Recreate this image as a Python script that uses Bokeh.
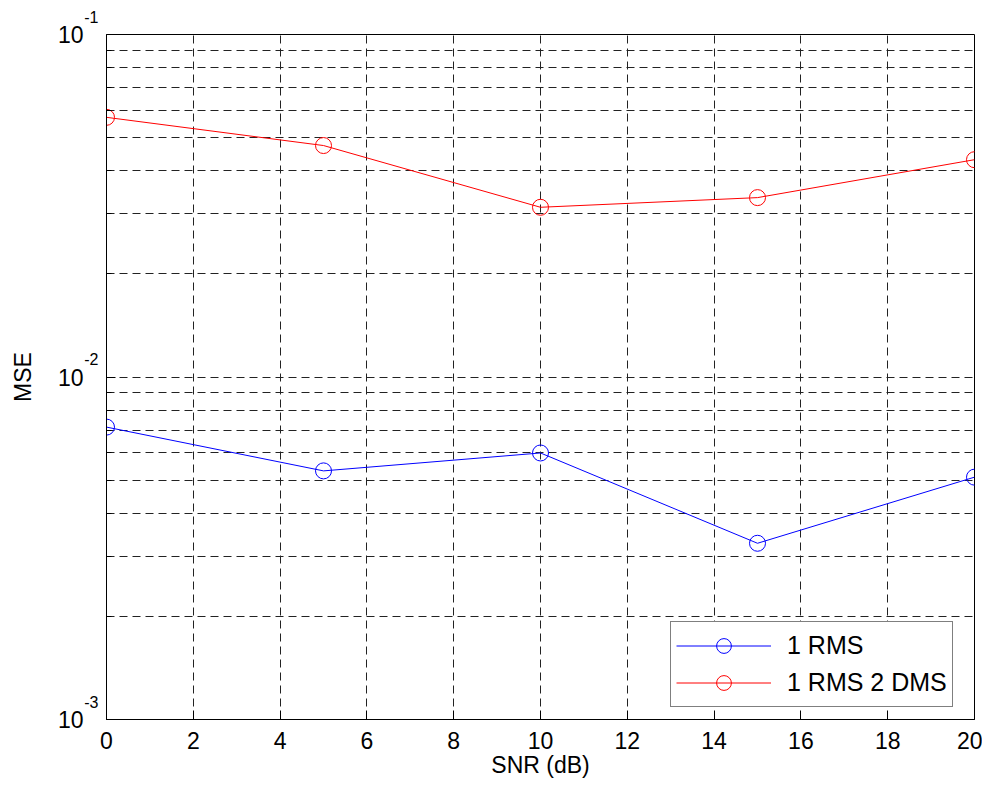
from bokeh.plotting import figure
from bokeh.models import Range1d, FixedTicker, Legend, LegendItem, LogAxis
from bokeh.embed import file_html
from bokeh.resources import INLINE

# ---- data ----
snr = [0, 5, 10, 15, 20]
mse_1rms = [0.00714, 0.00532, 0.0060, 0.00327, 0.0051]
mse_1rms_2dms = [0.0573, 0.0474, 0.0313, 0.0334, 0.0431]

x_ticks = [0, 2, 4, 6, 8, 10, 12, 14, 16, 18, 20]
y_major = [0.001, 0.01, 0.1]
y_exponents = ["-3", "-2", "-1"]
y_minor = [m * d for d in [0.001, 0.01] for m in range(2, 10)]

FONT = "Liberation Sans"
GRID_DASH = "8 5"

p = figure(frame_width=868, frame_height=685, y_axis_type="log",
           x_range=Range1d(0, 20), y_range=Range1d(1e-3, 1e-1),
           output_backend="svg", toolbar_location=None,
           min_border_left=106, min_border_right=8, min_border_top=34,
           min_border_bottom=60, x_axis_label="SNR (dB)")
p.outline_line_color = "black"
p.outline_line_width = 1
p.background_fill_color = "white"
p.border_fill_color = "white"

xt = FixedTicker(ticks=x_ticks)
yt = FixedTicker(ticks=y_major, minor_ticks=y_minor)

xa = p.xaxis[0]
xa.ticker = xt
xa.major_tick_in = 9
xa.major_tick_out = 0
xa.minor_tick_line_color = None
xa.major_label_standoff = 12
xa.major_label_text_font = FONT
xa.major_label_text_font_size = "23px"
xa.major_label_text_color = "black"
xa.axis_label_text_font = FONT
xa.axis_label_text_font_size = "23px"
xa.axis_label_text_font_style = "normal"
xa.axis_label_text_color = "black"
xa.axis_label_standoff = 0
xa.axis_line_color = "black"

# inner left axis: ticks + exponent part of the labels (raised)
ya = p.yaxis[0]
ya.ticker = yt
ya.major_tick_in = 9
ya.major_tick_out = 0
ya.minor_tick_in = 5
ya.minor_tick_out = 0
ya.major_label_overrides = {v: e + "\n\u00a0" for v, e in zip(y_major, y_exponents)}
ya.major_label_standoff = 8
ya.major_label_text_font = FONT
ya.major_label_text_font_size = "16px"
ya.major_label_text_line_height = 2.05
ya.major_label_text_color = "black"
ya.axis_line_color = "black"

# outer left axis: base "10" of the labels and the axis title
yb = LogAxis(ticker=yt, major_tick_line_color=None, minor_tick_line_color=None,
             axis_line_color=None, major_label_standoff=-8,
             major_label_overrides={v: "10" for v in y_major},
             major_label_text_font=FONT, major_label_text_font_size="23px",
             major_label_text_color="black", axis_label="MSE",
             axis_label_text_font=FONT, axis_label_text_font_size="23px",
             axis_label_text_font_style="normal", axis_label_text_color="black",
             axis_label_standoff=19)
p.add_layout(yb, "left")

# grids
p.xgrid.ticker = xt
p.xgrid.grid_line_color = "#222222"
p.xgrid.grid_line_dash = GRID_DASH
p.xgrid.grid_line_width = 1
p.ygrid.ticker = yt
p.ygrid.grid_line_color = "#222222"
p.ygrid.grid_line_dash = GRID_DASH
p.ygrid.minor_grid_line_color = "#222222"
p.ygrid.minor_grid_line_dash = GRID_DASH

# series
l1 = p.line(snr, mse_1rms, line_color="blue", line_width=1)
s1 = p.scatter(snr, mse_1rms, marker="circle", size=16, fill_color=None,
               line_color="blue", line_width=1)
l2 = p.line(snr, mse_1rms_2dms, line_color="red", line_width=1)
s2 = p.scatter(snr, mse_1rms_2dms, marker="circle", size=16, fill_color=None,
               line_color="red", line_width=1)

legend = Legend(items=[LegendItem(label="1 RMS", renderers=[l1, s1]),
                       LegendItem(label="1 RMS 2 DMS", renderers=[l2, s2])],
                location=(564, 12), padding=5, spacing=0, margin=0,
                glyph_width=95, glyph_height=37, label_height=37,
                label_standoff=16, label_text_font=FONT,
                label_text_font_size="25px", label_text_color="black",
                border_line_color="black", border_line_width=1,
                background_fill_alpha=1)
p.add_layout(legend, "center")

open("out.html", "w").write(file_html(p, INLINE))
